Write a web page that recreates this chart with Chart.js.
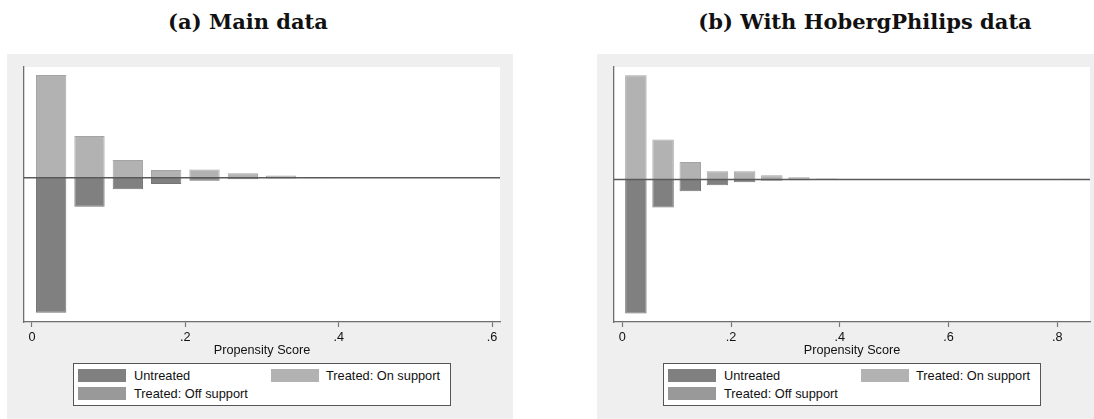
<!DOCTYPE html>
<html>
<head>
<meta charset="utf-8">
<script src="https://cdn.jsdelivr.net/npm/chart.js@4.4.1/dist/chart.umd.min.js"></script>
<style>
  body { margin: 0; width: 1094px; height: 419px; background: #fff; position: relative; overflow: hidden;
         font-family: "Liberation Sans", Arial, sans-serif; }
  .title { position: absolute; top: 8px; line-height: 28px; text-align: center; color: #111;
           font-family: "DejaVu Serif", serif; font-weight: bold; font-size: 21px; }
  .panel { position: absolute; top: 54px; height: 365px; background: #efefef; }
  .panel canvas { position: absolute; left: 0; top: 0; }
  .legend { position: absolute; left: 66px; top: 309px; width: 376px; height: 41px;
            border: 1px solid #555; background: #fff; font-size: 12.8px; color: #111; }
  .sw { position: absolute; width: 48px; height: 13px; }
  .lt { position: absolute; line-height: 15px; white-space: nowrap; }
</style>
</head>
<body>

<div class="title" style="left:0;width:496px;">(a) Main data</div>
<div class="title" style="left:615px;width:500px;">(b) With HobergPhilips data</div>

<div class="panel" id="panelA" style="left:7px;width:506px;">
  <canvas id="chartA" width="506" height="365"></canvas>
</div>
<div class="panel" id="panelB" style="left:597px;width:497px;">
  <canvas id="chartB" width="497" height="365"></canvas>
</div>

<script>
// Propensity-score bins (width 0.05), bar centres
const binsMain = [0.025, 0.075, 0.125, 0.175, 0.225, 0.275, 0.325, 0.375, 0.425, 0.475, 0.525, 0.575];
const binsHP   = [0.025, 0.075, 0.125, 0.175, 0.225, 0.275, 0.325, 0.375, 0.425, 0.475, 0.525,
                  0.575, 0.625, 0.675, 0.725, 0.775, 0.825];

// Share of each group per bin — main data
const untreatedMain  = [0.720, 0.155, 0.062, 0.034, 0.016, 0.009, 0.005, 0.003, 0, 0, 0.002, 0];
const treatedOnMain  = [0.548, 0.222, 0.094, 0.041, 0.044, 0.023, 0.011, 0.003, 0, 0.003, 0.003, 0.003];
const treatedOffMain = [0, 0, 0, 0, 0, 0, 0, 0, 0, 0, 0, 0];

// Share of each group per bin — with HobergPhilips data
const untreatedHP  = [0.715, 0.149, 0.062, 0.030, 0.014, 0.007, 0.004, 0.002, 0, 0, 0, 0, 0, 0, 0, 0, 0];
const treatedOnHP  = [0.556, 0.213, 0.094, 0.044, 0.044, 0.023, 0.012, 0.005, 0.003, 0.003, 0.003,
                      0, 0, 0, 0, 0, 0.004];
const treatedOffHP = [0, 0, 0, 0, 0, 0, 0, 0, 0, 0, 0, 0, 0, 0, 0, 0, 0];

// x-axis ticks
const ticksMain = [0, 0.2, 0.4, 0.6];
const tickLabelsMain = ["0", ".2", ".4", ".6"];
const ticksHP = [0, 0.2, 0.4, 0.6, 0.8];
const tickLabelsHP = ["0", ".2", ".4", ".6", ".8"];

const legendLabels = ["Untreated", "Treated: On support", "Treated: Off support"];
const COLORS = { untreated: "#808080", on: "#b2b2b2", off: "#999999" };
const BORDERS = { untreated: "#757575", on: "#a4a4a4", off: "#8e8e8e" };

const FONT = { family: '"Liberation Sans", Arial, sans-serif', size: 12.7 };

// white plotting region behind the bars
const plotBg = {
  id: 'plotBg',
  beforeDraw(chart) {
    const { ctx, chartArea: a } = chart;
    ctx.save();
    ctx.fillStyle = '#ffffff';
    ctx.fillRect(a.left, a.top, a.right - a.left, a.bottom - a.top);
    ctx.restore();
  }
};

// horizontal reference line at zero, drawn over the bars
const zeroLine = {
  id: 'zeroLine',
  afterDatasetsDraw(chart) {
    const { ctx, chartArea: a, scales: { y } } = chart;
    const py = y.getPixelForValue(0);
    ctx.save();
    ctx.strokeStyle = '#5a5a5a';
    ctx.lineWidth = 1.5;
    ctx.beginPath();
    ctx.moveTo(a.left, py);
    ctx.lineTo(a.right, py);
    ctx.stroke();
    ctx.restore();
  }
};

function points(bins, vals, sign) {
  return bins.map((x, i) => ({ x: x, y: vals[i] ? sign * vals[i] : null }));
}

function makeChart(id, bins, untreated, treatedOn, treatedOff, tickVals, tickLabels, xMin, xMax, yMin, yMax, padRight) {
  const ds = (label, data, key) => ({
    label, data,
    backgroundColor: COLORS[key], borderColor: BORDERS[key], borderWidth: 1,
    grouped: false, categoryPercentage: 1, barPercentage: 0.79
  });
  return new Chart(document.getElementById(id), {
    type: 'bar',
    data: {
      datasets: [
        ds(legendLabels[0], points(bins, untreated, -1), 'untreated'),   // drawn below zero
        ds(legendLabels[1], points(bins, treatedOn, 1), 'on'),
        ds(legendLabels[2], points(bins, treatedOff, 1), 'off')
      ]
    },
    options: {
      responsive: false,
      animation: false,
      devicePixelRatio: 1,
      layout: { padding: { left: 17, top: 13, right: padRight, bottom: 61 } },
      plugins: { legend: { display: false }, tooltip: { enabled: false }, title: { display: false } },
      scales: {
        x: {
          type: 'linear', min: xMin, max: xMax, offset: false,
          afterBuildTicks: s => { s.ticks = tickVals.map(v => ({ value: v })); },
          afterFit: s => { s.height = 36; },
          ticks: { callback: (v, i) => tickLabels[i], font: FONT, color: '#111', padding: 3, maxRotation: 0, autoSkip: false },
          grid: { display: true, offset: false, drawOnChartArea: false, drawTicks: true, tickLength: 5, tickColor: '#777', tickWidth: 1.2 },
          border: { display: true, color: '#6e6e6e', width: 1.3 },
          title: { display: true, text: 'Propensity Score', font: FONT, color: '#111', padding: { top: 0, bottom: 0 } }
        },
        y: {
          min: yMin, max: yMax,
          afterFit: s => { s.width = 0; },
          ticks: { display: false },
          grid: { display: false },
          border: { display: true, color: '#6e6e6e', width: 1.3 }
        }
      }
    },
    plugins: [plotBg, zeroLine]
  });
}

makeChart('chartA', binsMain, untreatedMain, treatedOnMain, treatedOffMain,
          ticksMain, tickLabelsMain, -0.01043, 0.61043, -0.77, 0.59, 13);
makeChart('chartB', binsHP, untreatedHP, treatedOnHP, treatedOffHP,
          ticksHP, tickLabelsHP, -0.01526, 0.86013, -0.76, 0.60, 4);

// legend boxes under each plot
function addLegend(panelId) {
  const box = document.createElement('div');
  box.className = 'legend';
  const items = [
    { key: 'untreated', sx: 4, sy: 5, tx: 60, ty: 4 },
    { key: 'on', sx: 197, sy: 5, tx: 252, ty: 4 },
    { key: 'off', sx: 4, sy: 23, tx: 60, ty: 22 }
  ];
  items.forEach((it, i) => {
    const sw = document.createElement('div');
    sw.className = 'sw';
    sw.style.left = it.sx + 'px'; sw.style.top = it.sy + 'px';
    sw.style.background = COLORS[it.key];
    const tx = document.createElement('div');
    tx.className = 'lt';
    tx.style.left = it.tx + 'px'; tx.style.top = it.ty + 'px';
    tx.textContent = legendLabels[i];
    box.appendChild(sw); box.appendChild(tx);
  });
  document.getElementById(panelId).appendChild(box);
}
addLegend('panelA');
addLegend('panelB');
</script>
</body>
</html>
